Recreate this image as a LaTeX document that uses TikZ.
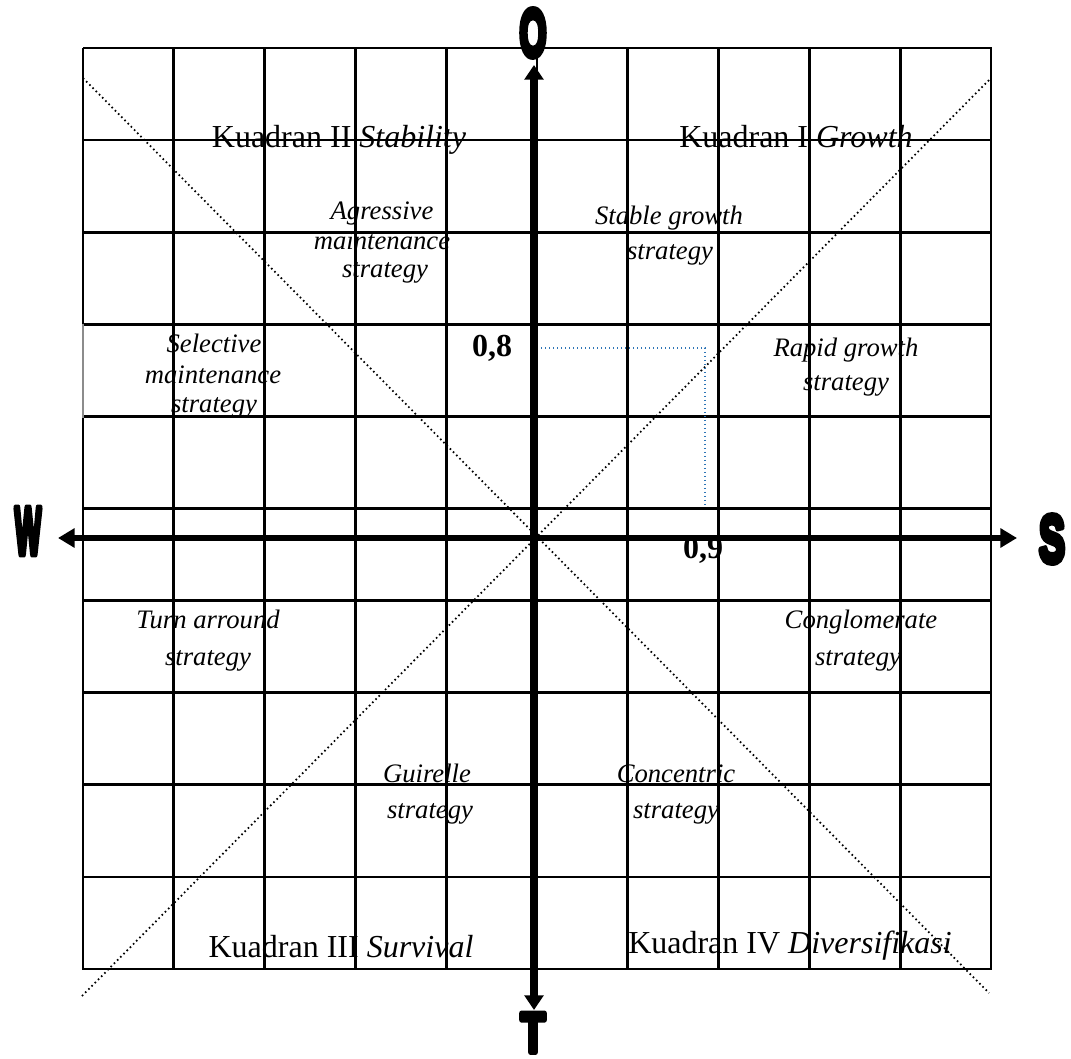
\documentclass[tikz,border=0pt]{standalone}
\usepackage{fontspec}
\setmainfont{Liberation Serif}
\newfontfamily\heavy{Liberation Sans}[UprightFont={* Bold}, FakeBold=10]
\usetikzlibrary{arrows.meta}
\definecolor{guideblue}{RGB}{46,117,182}
\begin{document}
\begin{tikzpicture}[x=0.75pt,y=-0.75pt,
  gridline/.style={line width=2.1pt},
  thinborder/.style={line width=0.8pt, black!45},
  diagline/.style={line width=1.3pt, dash pattern=on 1.2pt off 2.2pt},
  guideline/.style={line width=1.1pt, guideblue, dash pattern=on 1.1pt off 1.9pt},
  axisv/.style={line width=6pt, {Triangle[length=11pt,width=14pt]}-{Triangle[length=11pt,width=14pt]}},
  axish/.style={line width=4.5pt, {Triangle[length=12.5pt,width=14pt]}-{Triangle[length=12.5pt,width=14pt]}},
  quad/.style={font=\fontsize{24}{28}\selectfont, inner sep=0pt, anchor=base},
  strat/.style={font=\fontsize{20}{24}\selectfont\itshape, inner sep=0pt, anchor=base},
  val/.style={font=\fontsize{24}{28}\selectfont\bfseries, inner sep=0pt, anchor=base},
  letter/.style={font=\heavy\fontsize{50}{50}\selectfont, inner sep=0pt, line join=round}]
\useasboundingbox (0,0) rectangle (1071,1059);
% grid
\foreach \k in {1,...,9} {
  \draw[gridline] ({83+90.8*\k},48) -- ({83+90.8*\k},969);
  \draw[gridline] (83,{48+92.1*\k}) -- (991,{48+92.1*\k});
}
\draw[gridline] (83,48) -- (991,48) -- (991,969) -- (83,969) -- (83,418);
\draw[gridline] (83,48) -- (83,324);
\draw[thinborder] (83,324) -- (83,418);
% diagonals
\coordinate (d1s) at (83,78);
\coordinate (d1e) at (989,993);
\coordinate (d2s) at (82,996);
\coordinate (d2e) at (991,78);
\draw[diagline] (d1s) -- (d1e);
\draw[diagline] (d2s) -- (d2e);
% guide lines
\coordinate (g0) at (537,348);
\coordinate (g1) at (705,348);
\coordinate (g2) at (705,507);
\draw[guideline] (g0) -- (g1) -- (g2);
% letters
\node[letter] (W) at (28,531) {\scalebox{0.42}[1]{W}};
\node[letter] (S) at (1052,539) {\scalebox{0.58}[1]{S}};
\node[letter] (O) at (533,33) {\scalebox{0.52}[1]{O}};
\node[letter, font=\heavy\fontsize{42}{42}\selectfont, anchor=base, text depth=0pt] (T) at (533,1052) {\scalebox{0.72}[1]{T}};
% axes
\coordinate (wTip) at (58,538);
\coordinate (sTip) at (1017,538);
\coordinate (oTip) at (534,65);
\coordinate (tTip) at (534,1010);
\draw[axish] (wTip) -- (sTip);
\draw[axisv] (tTip) -- (oTip);
% values
\node[val] (v8) at (492,356) {0,8};
\node[val] (v9) at (703,558) {0,9};
% quadrant titles
\node[quad] (q2) at (339,148) {Kuadran II \textit{Stability}};
\node[quad] (q1) at (796,148) {Kuadran I \textit{Growth}};
\node[quad] (q3) at (341,957) {Kuadran III \textit{Survival}};
\node[quad] (q4) at (790,953) {Kuadran IV \textit{Diversifikasi}};
% strategies
\node[strat] (ag1) at (382,220) {Agressive};
\node[strat] (ag2) at (382,250) {maintenance};
\node[strat] (ag3) at (385,278) {strategy};
\node[strat] (sg1) at (669,225) {Stable growth};
\node[strat] (sg2) at (670,260) {strategy};
\node[strat] (se1) at (214,353) {Selective};
\node[strat] (se2) at (213,383) {maintenance};
\node[strat] (se3) at (214,412) {strategy};
\node[strat] (rg1) at (846,356) {Rapid growth};
\node[strat] (rg2) at (846,390) {strategy};
\node[strat] (ta1) at (208,628) {Turn arround};
\node[strat] (ta2) at (208,665) {strategy};
\node[strat] (cg1) at (861,628) {Conglomerate};
\node[strat] (cg2) at (858,665) {strategy};
\node[strat] (gu1) at (427,782) {Guirelle};
\node[strat] (gu2) at (430,818) {strategy};
\node[strat] (cc1) at (676,782) {Concentric};
\node[strat] (cc2) at (676,818) {strategy};
\end{tikzpicture}
\end{document}
